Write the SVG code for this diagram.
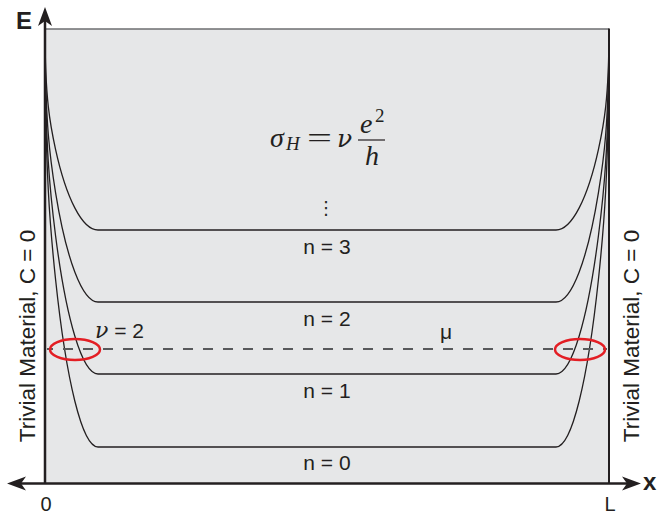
<svg xmlns="http://www.w3.org/2000/svg" width="658" height="515" viewBox="0 0 658 515">
<style>
.ax{stroke:#231f20;stroke-width:2.5;fill:none}
.cv{stroke:#231f20;stroke-width:1.3;fill:none}
.t{font-family:"Liberation Sans",Arial,sans-serif;fill:#231f20}
.m{font-family:"Liberation Serif","Times New Roman",serif;font-style:italic;fill:#231f20}
.nu{font-family:"DejaVu Serif",serif;font-style:italic;fill:#231f20}
.ring{fill:none;stroke:#e31e24;stroke-width:2.5}
</style>
<rect x="45" y="29" width="564" height="455" fill="#e6e7e8"/>
<line x1="45" y1="29" x2="609" y2="29" stroke="#6d6e70" stroke-width="1.5"/>
<line x1="609" y1="28.5" x2="609" y2="484" stroke="#231f20" stroke-width="2"/>
<g id="bands">
<path class="cv" d="M45,29 C45,99.35 50.3,125.48 55.6,149.6 C66.2,197.84 82.1,230 98,230 L556,230 C571.9,230 587.8,197.84 598.4,149.6 C603.7,125.48 609,99.35 609,29"/>
<path class="cv" d="M45,29 C45,124.55 50.3,160.04 55.6,192.8 C66.2,258.32 82.1,302 98,302 L556,302 C571.9,302 587.8,258.32 598.4,192.8 C603.7,160.04 609,124.55 609,29"/>
<path class="cv" d="M45,29 C45,149.75 50.3,194.6 55.6,236 C66.2,318.8 82.1,374 98,374 L556,374 C571.9,374 587.8,318.8 598.4,236 C603.7,194.6 609,149.75 609,29"/>
<path class="cv" d="M45,29 C45,175.3 50.3,229.64 55.6,279.8 C66.2,380.12 82.1,447 98,447 L556,447 C571.9,447 587.8,380.12 598.4,279.8 C603.7,229.64 609,175.3 609,29"/>
</g>
<line x1="47" y1="349" x2="607" y2="349" stroke="#58595b" stroke-width="1.8" stroke-dasharray="10 10" stroke-dashoffset="4"/>
<ellipse class="ring" cx="75" cy="349.5" rx="25" ry="10.5"/>
<ellipse class="ring" cx="580" cy="349.5" rx="25" ry="10.5"/>
<g id="axes">
<line class="ax" x1="45" y1="484" x2="45" y2="20"/>
<polygon points="45,7 38,26 45,21 52,26" fill="#231f20"/>
<line class="ax" x1="20" y1="483.5" x2="628" y2="483.5"/>
<polygon points="7,483.5 26,476.5 21,483.5 26,490.5" fill="#231f20"/>
<polygon points="641,483.5 622,476.5 627,483.5 622,490.5" fill="#231f20"/>
</g>
<text class="t" x="16" y="29" font-size="24" font-weight="bold">E</text>
<text class="t" x="643" y="490" font-size="24" font-weight="bold">x</text>
<text class="t" x="46" y="511" font-size="20" text-anchor="middle">0</text>
<text class="t" x="610" y="511" font-size="20" text-anchor="middle">L</text>
<text class="t" font-size="22.5" text-anchor="middle" transform="translate(35,336) rotate(-90)">Trivial Material, C = 0</text>
<text class="t" font-size="22.5" text-anchor="middle" transform="translate(639,336) rotate(-90)">Trivial Material, C = 0</text>
<text class="t" x="327" y="254" font-size="21" text-anchor="middle">n = 3</text>
<text class="t" x="327" y="326" font-size="21" text-anchor="middle">n = 2</text>
<text class="t" x="327" y="398" font-size="21" text-anchor="middle">n = 1</text>
<text class="t" x="327" y="470" font-size="21" text-anchor="middle">n = 0</text>
<text class="t" x="446" y="339" font-size="21" text-anchor="middle">μ</text>
<text x="95" y="338" font-size="21"><tspan class="nu" font-size="22">ν</tspan><tspan class="t"> = 2</tspan></text>
<g id="formula">
<text class="m" x="270" y="147" font-size="28">σ</text>
<text class="m" x="286" y="150" font-size="19">H</text>
<text x="307" y="147" font-size="28" font-family="Liberation Serif,serif" fill="#231f20" textLength="25" lengthAdjust="spacingAndGlyphs">=</text>
<text class="nu" x="337" y="147" font-size="25">ν</text>
<line x1="358" y1="140" x2="385" y2="140" stroke="#231f20" stroke-width="1.2"/>
<text class="m" x="360" y="133" font-size="28">e</text>
<text x="375" y="122" font-size="19" font-family="Liberation Serif,serif" fill="#231f20">2</text>
<text class="m" x="365" y="165" font-size="28">h</text>
</g>
<text x="326" y="214" font-size="18" font-family="DejaVu Sans,sans-serif" fill="#231f20" text-anchor="middle">⋮</text>
</svg>
